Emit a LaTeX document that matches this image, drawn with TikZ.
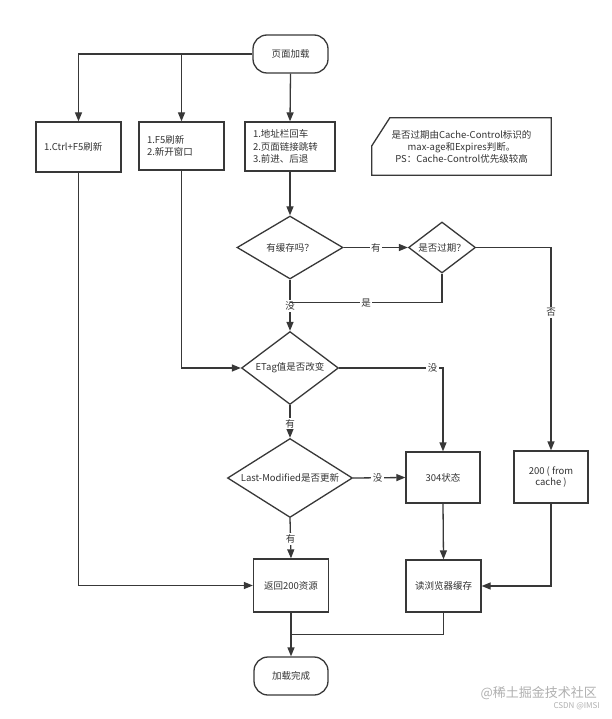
\documentclass[tikz,border=0pt]{standalone}
\usepackage{fontspec}
\setmainfont{Noto Sans CJK SC}
\usetikzlibrary{arrows.meta,shapes.geometric,calc}
\definecolor{ln}{HTML}{383838}
\definecolor{tx}{HTML}{333333}
\definecolor{wm}{HTML}{B0B0B0}
\begin{document}
\begin{tikzpicture}[x=1pt,y=-1pt,
  font=\fontsize{9.5}{12.5}\selectfont, text=tx,
  line/.style={draw=ln, line width=1.3pt},
  arr/.style={line, -{Triangle[length=9pt,width=7pt]}},
  procl/.style={rectangle, draw=ln, line width=1.3pt, inner xsep=8pt, inner ysep=0pt, align=left},
  procc/.style={rectangle, draw=ln, line width=1.3pt, inner sep=0pt, align=center},
  term/.style={rectangle, rounded corners=14pt, draw=ln, line width=1.3pt, inner sep=0pt, minimum width=75pt, minimum height=38pt},
  diam/.style={diamond, draw=ln, line width=1.3pt, inner sep=0pt},
  lab/.style={fill=white, inner sep=1.5pt}]
\useasboundingbox (0,0) rectangle (612,719);
\fill[white] (0,0) rectangle (612,719);

% nodes
\node[term] (load) at (290.5,54) {页面加载};
\node[procl, minimum width=85pt, minimum height=50pt, text width=69pt] (b1) at (78.5,147) {1.Ctrl+F5刷新};
\node[procl, minimum width=85pt, minimum height=48pt, text width=69pt] (b2) at (181.5,146) {1.F5刷新\\2.新开窗口};
\node[procl, minimum width=90pt, minimum height=49pt, text width=74pt] (b3) at (290,146.5) {1.地址栏回车\\2.页面链接跳转\\3.前进、后退};
\node[align=center, minimum width=179pt, minimum height=57pt, inner sep=0pt, font=\fontsize{9.5}{12}\selectfont] (note) at (461.5,146.5)
  {是否过期由Cache-Control标识的\\max-age和Expires判断。\\PS：Cache-Control优先级较高};
\draw[line] ([xshift=18pt]note.north west) -- (note.north east) -- (note.south east)
  -- (note.south west) -- ([yshift=-28pt]note.north west) -- cycle;

\node[diam, minimum width=106pt, minimum height=63pt, label={center:有缓存吗？}] (d1) at (290,247.5) {};
\node[diam, minimum width=67pt, minimum height=51pt, label={center:是否过期？}] (d2) at (442,247.5) {};
\node[diam, minimum width=97pt, minimum height=73pt, label={center:ETag值是否改变}] (d3) at (290,368) {};
\node[diam, minimum width=125pt, minimum height=79pt, label={center:Last-Modified是否更新}] (d4) at (290,478) {};

\node[procc, minimum width=74pt, minimum height=51pt] (s304) at (443,477.5) {304状态};
\node[procc, minimum width=74pt, minimum height=52pt, font=\fontsize{9.5}{11.5}\selectfont] (c200) at (551,477) {200 ( from\\cache )};
\node[procc, minimum width=75pt, minimum height=53pt] (r200) at (291,585.5) {返回200资源};
\node[procc, minimum width=75pt, minimum height=52pt] (rcache) at (443.5,586) {读浏览器缓存};
\node[term, minimum width=74pt] (done) at (291,676) {加载完成};

% connectors
\draw[arr] (load.west) -| (b1.north);
\draw[arr] (load.west -| b2.north) -- (b2.north);
\draw[arr] (load.south) -- (b3.north);
\draw[arr] (b3.south) -- (d1.north);
\draw[arr] (d1.east) -- node[lab]{有} (d2.west);
\coordinate (j1) at ($(d1.south)!0.45!(d3.north)$);
\draw[arr] (d1.south) -- node[lab,pos=0.52]{没} (d3.north);
\draw[line] (d2.south) |- node[lab,pos=0.75]{是} (j1);
\draw[arr] (d2.east) -| node[lab,pos=0.66]{否} (c200.north);
\draw[arr] (b2.south) |- (d3.west);
\draw[arr] (d3.east) -| node[lab,pos=0.45]{没} (s304.north);
\draw[arr] (d3.south) -- node[lab,pos=0.56]{有} (d4.north);
\draw[arr] (d4.east) -- node[lab,pos=0.47]{没} (s304.west);
\draw[arr] (d4.south) -- node[lab,pos=0.52]{有} (r200.north);
\draw[arr] (b1.south) |- (r200.west);
\draw[arr] (s304.south) -- (rcache.north);
\draw[arr] (c200.south) |- (rcache.east);
\coordinate (j2) at ($(r200.south)!0.5!(done.north)$);
\draw[arr] (r200.south) -- (done.north);
\draw[line] (rcache.south) |- (j2);

% watermark
\node[text=wm, font=\fontsize{13}{13}\selectfont, anchor=east, inner sep=0pt] (wm1) at (597,693) {@稀土掘金技术社区};
\node[text=wm, font=\fontsize{8}{8}\selectfont, anchor=east, inner sep=0pt] (wm2) at (600,706) {CSDN @IMSI};
\end{tikzpicture}
\end{document}
